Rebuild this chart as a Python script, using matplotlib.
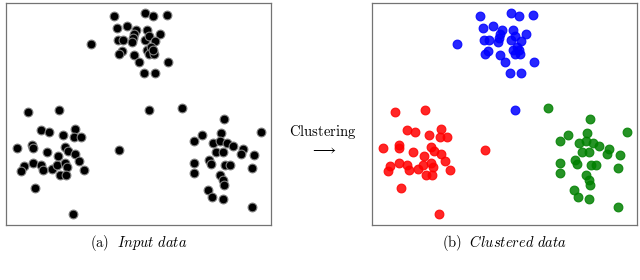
import numpy as np
import matplotlib
matplotlib.use('Agg')
import matplotlib.pyplot as plt

plt.rcParams['mathtext.fontset'] = 'cm'

# point positions (pixel-like units, y grows downwards)
blue_x = [342, 435, 458, 501, 351, 380, 408, 402, 440, 480, 353, 370, 398, 396, 436,
          446, 466, 365, 358, 402, 417, 440, 452, 446, 463, 458, 503, 432, 466, 274, 447]
blue_y = [48, 38, 46, 45, 83, 78, 90, 100, 90, 100, 118, 118, 112, 125, 118,
          108, 122, 152, 162, 165, 185, 150, 140, 160, 160, 148, 185, 218, 218, 132, 330]

red_x = [85, 177, 122, 146, 190, 226, 222, 243, 50, 97, 99, 140, 195, 205, 224, 236,
         98, 72, 64, 122, 128, 157, 170, 175, 195, 200, 180, 198, 252, 104, 220, 357]
red_y = [335, 331, 390, 397, 404, 386, 410, 410, 445, 435, 446, 457, 443, 455, 463, 484,
         490, 500, 515, 495, 512, 507, 495, 470, 490, 502, 525, 527, 512, 564, 642, 451]

green_x = [545, 673, 783, 605, 582, 662, 640, 660, 680, 700, 730, 722, 648, 670, 761,
           582, 583, 627, 632, 676, 690, 755, 660, 668, 672, 625, 636, 670, 755]
green_y = [323, 358, 397, 405, 425, 400, 430, 425, 430, 440, 448, 462, 458, 458, 465,
           491, 521, 480, 494, 497, 497, 505, 525, 540, 555, 572, 593, 597, 622]

clusters = [(blue_x, blue_y, 'blue'), (red_x, red_y, 'red'), (green_x, green_y, 'green')]


def style_axes(ax):
    ax.set_xlim(17, 812)
    ax.set_ylim(677, 8)
    ax.set_xticks([])
    ax.set_yticks([])
    for sp in ax.spines.values():
        sp.set_color('0.45')
        sp.set_linewidth(0.9)


fig = plt.figure(figsize=(6.4, 2.8), dpi=100)
ax1 = fig.add_axes([0.009, 0.196, 0.414, 0.793])
ax2 = fig.add_axes([0.581, 0.196, 0.414, 0.793])

for xs, ys, col in clusters:
    ax1.scatter(xs, ys, s=40, c='black', edgecolors='0.5', linewidths=0.8, zorder=3)
    ax2.scatter(xs, ys, s=40, c=col, edgecolors=col, linewidths=0.8, alpha=0.85, zorder=3)

style_axes(ax1)
style_axes(ax2)

fig.text(0.216, 0.132, r'$\mathrm{(a)}\ \ \mathit{Input\ data}$', ha='center', va='center', fontsize=10.5)
fig.text(0.788, 0.132, r'$\mathrm{(b)}\ \ \mathit{Clustered\ data}$', ha='center', va='center', fontsize=10.5)
fig.text(0.505, 0.530, r'$\mathrm{Clustering}$', ha='center', va='center', fontsize=10.5)
fig.text(0.506, 0.468, r'$\longrightarrow$', ha='center', va='center', fontsize=10.5)

fig.savefig('out.png', dpi=100)
